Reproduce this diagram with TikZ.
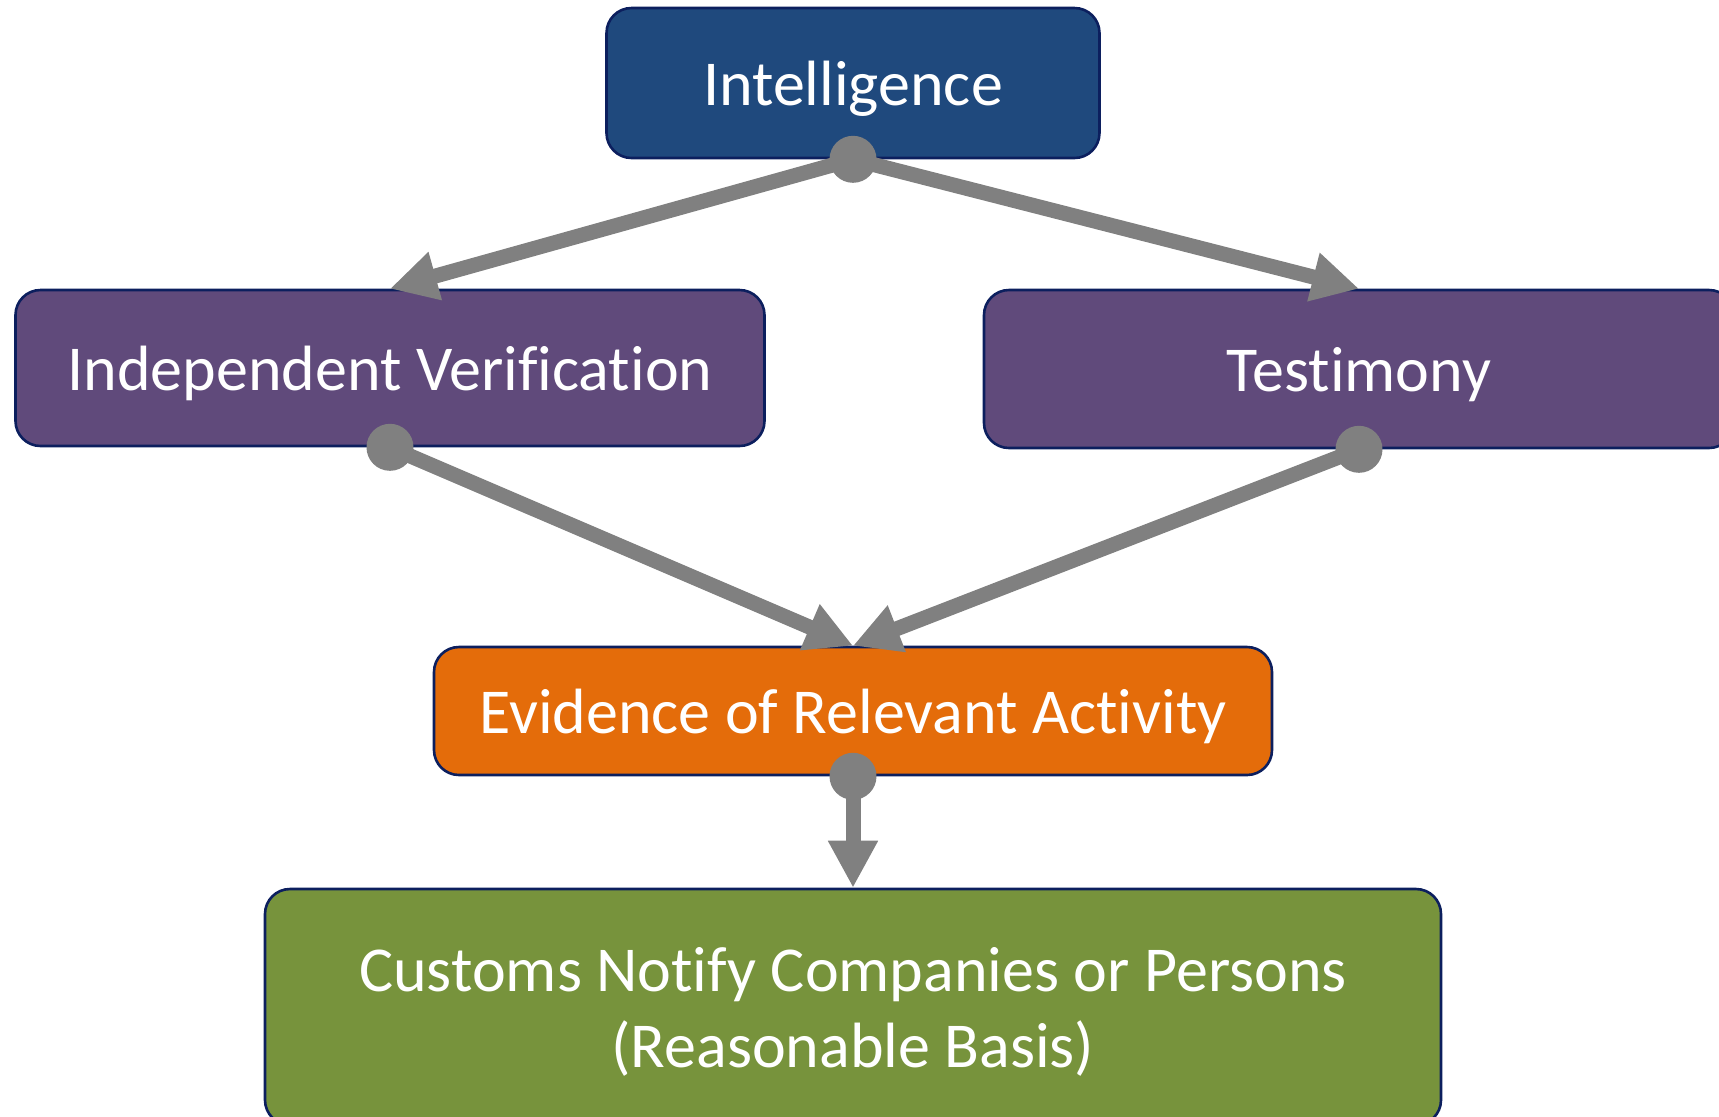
\documentclass[tikz,border=0pt]{standalone}
\usepackage{fontspec}
\setmainfont[Ligatures=CommonOff]{Carlito}
\usepackage{tikz}
\usetikzlibrary{arrows.meta}

\definecolor{intelblue}{HTML}{1F497D}
\definecolor{stepviolet}{HTML}{604A7B}
\definecolor{evidorange}{HTML}{E46C0A}
\definecolor{custgreen}{HTML}{77933C}
\definecolor{edgenavy}{HTML}{0C1F5E}
\definecolor{linkgray}{HTML}{808080}

\begin{document}
\begin{tikzpicture}[x=0.5pt,y=-0.5pt,
    box/.style={draw=edgenavy,line width=1.3pt,rounded corners=12.5pt,inner sep=0pt,
        text depth=0pt,text=white,align=center,font=\fontsize{32}{38}\selectfont},
    link/.style={color=linkgray,line width=7.5pt,-{Triangle[length=23.5pt,width=23.5pt]}},
    dot/.style={fill=linkgray}]
\useasboundingbox (0,0) rectangle (1719,1116);

\node[box,fill=intelblue,minimum width=246.5pt,minimum height=75pt] (intel) at (853,83) {Intelligence};
\node[box,fill=stepviolet,minimum width=374.5pt,minimum height=78pt] (indep) at (390,368) {Independent Verification};
\node[box,fill=stepviolet,minimum width=375pt,minimum height=79pt] (testi) at (1359,369) {Testimony};
\node[box,fill=evidorange,minimum width=419pt,minimum height=64pt] (evid) at (853,711) {Evidence of Relevant Activity};
\node[box,fill=custgreen,minimum width=588pt,minimum height=118pt] (cust) at (853,1007) {Customs Notify Companies or Persons\\(Reasonable Basis)};

\path[link] (intel.south) edge (indep.north)
    (intel.south) edge (testi.north)
    (indep.south) edge (evid.north)
    (testi.south) edge (evid.north)
    (evid.south) edge (cust.north);

\foreach \n in {intel,indep,testi,evid}
    \fill[dot] (\n.south) circle (11.75pt);
\end{tikzpicture}
\end{document}
